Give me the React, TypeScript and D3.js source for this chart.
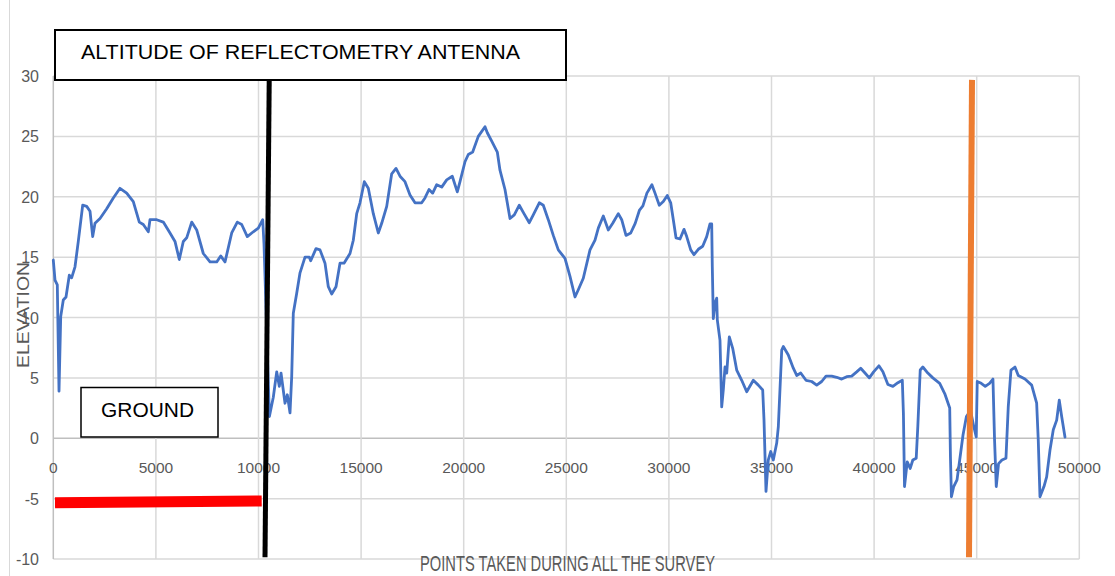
import React from "react";
import * as d3 from "d3";

// ---- data ----
const surveyX: number[] = [
  0, 83, 195, 278, 361, 487, 619, 780, 897, 1058, 1218, 1433, 1628, 1789, 1920, 2032, 2276, 2602, 2924, 3250,
  3577, 3899, 4191, 4386, 4630, 4712, 5039, 5361, 5687, 5931, 6140, 6335, 6501, 6745, 6988, 7310, 7637, 7963,
  8158, 8368, 8694, 8967, 9181, 9454, 9747, 9991, 10205, 10268,
  10531, 10721, 10887, 11014, 11097, 11292, 11404, 11535, 11618, 11696, 11862, 12023, 12267, 12476, 12544,
  12802, 12997, 13241, 13402, 13567, 13777, 13972, 14167, 14459, 14620, 14786, 14946, 15156, 15351, 15595,
  15838, 16004, 16248, 16491, 16701, 16896, 17139, 17383, 17627, 17953, 18114, 18309, 18489, 18684, 18928,
  19171, 19444, 19688, 19820, 20063, 20224, 20438, 20711, 21038, 21150, 21365, 21638, 21768, 22012, 22256,
  22466, 22709, 22938, 23196, 23391, 23684, 23879, 24122, 24366, 24610, 24936, 25180, 25424, 25585, 25828,
  26155, 26399, 26560, 26803, 27047, 27262, 27534, 27700, 27910, 28139, 28358, 28568, 28733, 28928, 29172,
  29323, 29532, 29727, 29922, 30088, 30215, 30346, 30541, 30736, 30868, 31063, 31223, 31433, 31647, 31842,
  32003, 32086, 32115, 32164, 32247, 32330, 32359, 32490, 32573, 32651, 32734, 32817, 32944, 33109, 33304,
  33548, 33792, 34113, 34357, 34571, 34635, 34732, 34844, 34961, 35088, 35254, 35332, 35498, 35576, 35819,
  36063, 36229, 36424, 36681, 36959, 37203, 37446, 37656, 37934, 38177, 38421, 38665, 38908, 39152, 39347,
  39556, 39766, 39976, 40234, 40429, 40673, 40916, 41160, 41375, 41429, 41482, 41614, 41760, 41887, 42053,
  42131, 42248, 42375, 42618, 42862, 43197, 43441, 43685, 43720, 43768, 43880, 44041, 44172, 44333, 44499,
  44699, 44855, 44977, 45026, 45221, 45416, 45626, 45792, 45870, 45953, 46065, 46231, 46426, 46538, 46670,
  46865, 47026, 47352, 47679, 47922, 48000, 48083, 48278, 48409, 48570, 48732, 48898, 49024, 49141, 49302,
];
const elevation: number[] = [
  14.76, 13.1, 12.7, 3.9, 10.07, 11.45, 11.7, 13.5, 13.3, 14.2, 16.3, 19.3, 19.2, 18.8, 16.7, 17.8, 18.2, 19.0, 19.9, 20.7,
  20.3, 19.6, 17.9, 17.7, 17.1, 18.1, 18.1, 17.9, 17.0, 16.3, 14.8, 16.3, 16.6, 17.9, 17.25, 15.3, 14.6, 14.6,
  15.1, 14.6, 17.0, 17.9, 17.7, 16.7, 17.1, 17.4, 18.1, 16.1,
  1.8, 3.4, 5.5, 4.3, 5.4, 2.9, 3.6, 2.1, 5.1, 10.35, 12.0, 13.7, 15.0, 15.0, 14.7,
  15.7, 15.6, 14.5, 12.55, 11.95, 12.55, 14.5, 14.5, 15.3, 16.4, 18.6, 19.5, 21.25, 20.7, 18.6,
  17.0, 17.8, 19.2, 21.9, 22.35, 21.7, 21.25, 20.15, 19.5, 19.5, 19.9, 20.6, 20.3, 21.0, 20.8,
  21.4, 21.7, 20.4, 21.25, 22.9, 23.5, 23.7, 25.0, 25.8, 25.3, 24.6, 23.7, 22.2, 20.6, 18.2,
  18.5, 19.3, 18.6, 17.85, 18.5, 19.5, 19.3, 18.1, 16.8, 15.6, 14.9, 13.4, 11.7, 12.3, 13.25,
  15.6, 16.4, 17.4, 18.4, 17.25, 17.8, 18.6, 18.1, 16.8, 17.0, 17.8, 18.9, 19.25, 20.3, 21.0,
  20.3, 19.3, 19.6, 20.1, 19.5, 18.1, 16.6, 16.5, 17.3, 16.7, 15.6, 15.2, 15.65, 15.9, 16.7,
  17.75, 17.75, 14.2, 9.9, 11.2, 11.6, 9.8, 8.1, 2.6, 4.0, 5.9, 5.4, 8.4, 7.45, 5.65,
  4.8, 3.85, 4.8, 4.4, 4.0, 1.5, -4.4, -1.8, -1.1, -1.8, -0.4, 0.95, 7.3, 7.6, 6.9,
  5.8, 5.2, 5.4, 4.8, 4.7, 4.4, 4.7, 5.15, 5.15, 5.05, 4.9, 5.1, 5.15, 5.5, 5.8,
  5.4, 5.0, 5.5, 6.0, 5.5, 4.45, 4.3, 4.6, 4.8, 2.0, -4.0, -1.95, -2.5, -1.8, -1.65,
  1.0, 5.65, 5.9, 5.4, 5.0, 4.55, 3.7, 2.5, -1.5, -4.85, -4.0, -3.45, -1.8, 0.27, 1.8,
  2.3, 1.0, 0.1, 4.7, 4.55, 4.3, 4.55, 4.9, -0.15, -4.0, -2.1, -1.8, -1.65, 2.6, 5.65,
  5.9, 5.2, 4.9, 4.4, 2.9, -0.15, -4.85, -4.0, -3.2, -1.0, 0.7, 1.5, 3.15, 1.8, 0.1,
];
const xTicks: number[] = [0, 5000, 10000, 15000, 20000, 25000, 30000, 35000, 40000, 45000, 50000];
const yTicks: number[] = [-10, -5, 0, 5, 10, 15, 20, 25, 30];
const titleText = "ALTITUDE OF REFLECTOMETRY ANTENNA";
const groundText = "GROUND";
const xAxisTitle = "POINTS TAKEN DURING ALL THE SURVEY";
const yAxisTitle = "ELEVATION";
// annotation segments in data coordinates: [x1, y1, x2, y2]
const groundLine: number[] = [83, -5.35, 10156, -5.19];
const antennaLine: number[] = [10522, 29.68, 10317, -9.86];
const orangeLine: number[] = [44771, 29.68, 44625, -9.86];

export default function App() {
  const W = 1115, H = 576;
  const x = d3.scaleLinear().domain([0, 50000]).range([53.3, 1079.3]);
  const y = d3.scaleLinear().domain([-10, 30]).range([559, 76]);
  const pts: [number, number][] = surveyX.map((v, i) => [v, elevation[i]]);
  const line = d3.line<[number, number]>().x((d) => x(d[0])).y((d) => y(d[1])).curve(d3.curveLinear);
  const grid = "#d9d9d9";
  const tickColor = "#595959";
  const font = "'Liberation Sans', Arial, sans-serif";
  const seg = (s: number[], color: string, w: number) => (
    <line x1={x(s[0])} y1={y(s[1])} x2={x(s[2])} y2={y(s[3])} stroke={color} strokeWidth={w} />
  );
  return (
    <svg width={W} height={H} style={{ position: "absolute", left: 0, top: 0, background: "#fff" }} fontFamily={font}>
      <rect x={0} y={0} width={W} height={H} fill="#fff" />
      <line x1={9.5} y1={0} x2={9.5} y2={H} stroke="#d9d9d9" strokeWidth={1} />
      {/* gridlines */}
      {yTicks.map((t) => (
        <line key={"gy" + t} x1={x(0)} x2={x(50000)} y1={y(t)} y2={y(t)} stroke={t === 0 ? "#bfbfbf" : grid} strokeWidth={1.5} />
      ))}
      {xTicks.map((t) => (
        <line key={"gx" + t} x1={x(t)} x2={x(t)} y1={y(30)} y2={y(-10)} stroke={t === 0 ? "#bfbfbf" : grid} strokeWidth={1.5} />
      ))}
      {/* tick labels */}
      {yTicks.map((t) => (
        <text key={"ly" + t} x={39} y={y(t) + 6} textAnchor="end" fontSize={16} fill={tickColor}>{t}</text>
      ))}
      {xTicks.map((t) => (
        <text key={"lx" + t} x={x(t)} y={473} textAnchor="middle" fontSize={15.5} fill={tickColor}>{t}</text>
      ))}
      {/* axis titles */}
      <text transform="translate(28.5,315) rotate(-90)" textAnchor="middle" fontSize={16} fill={tickColor}
        textLength={106} lengthAdjust="spacingAndGlyphs">{yAxisTitle}</text>
      <text x={567.5} y={571} textAnchor="middle" fontSize={22} fill={tickColor}
        textLength={295} lengthAdjust="spacingAndGlyphs">{xAxisTitle}</text>
      {/* series */}
      <path d={line(pts) || ""} fill="none" stroke="#4472c4" strokeWidth={2.8} strokeLinejoin="round" strokeLinecap="round" />
      {/* annotations */}
      {seg(groundLine, "#ff0000", 11)}
      {seg(antennaLine, "#000000", 5)}
      {seg(orangeLine, "#ed7d31", 6)}
      <rect x={55} y={30} width={511} height={50} fill="#fff" stroke="#000" strokeWidth={2} />
      <text x={81} y={59} fontSize={21} fill="#000" textLength={439} lengthAdjust="spacingAndGlyphs">{titleText}</text>
      <rect x={81} y={387.5} width={137} height={49.5} fill="#fff" stroke="#000" strokeWidth={1.5} />
      <text x={101} y={417} fontSize={21} fill="#000" textLength={93} lengthAdjust="spacingAndGlyphs">{groundText}</text>
    </svg>
  );
}
